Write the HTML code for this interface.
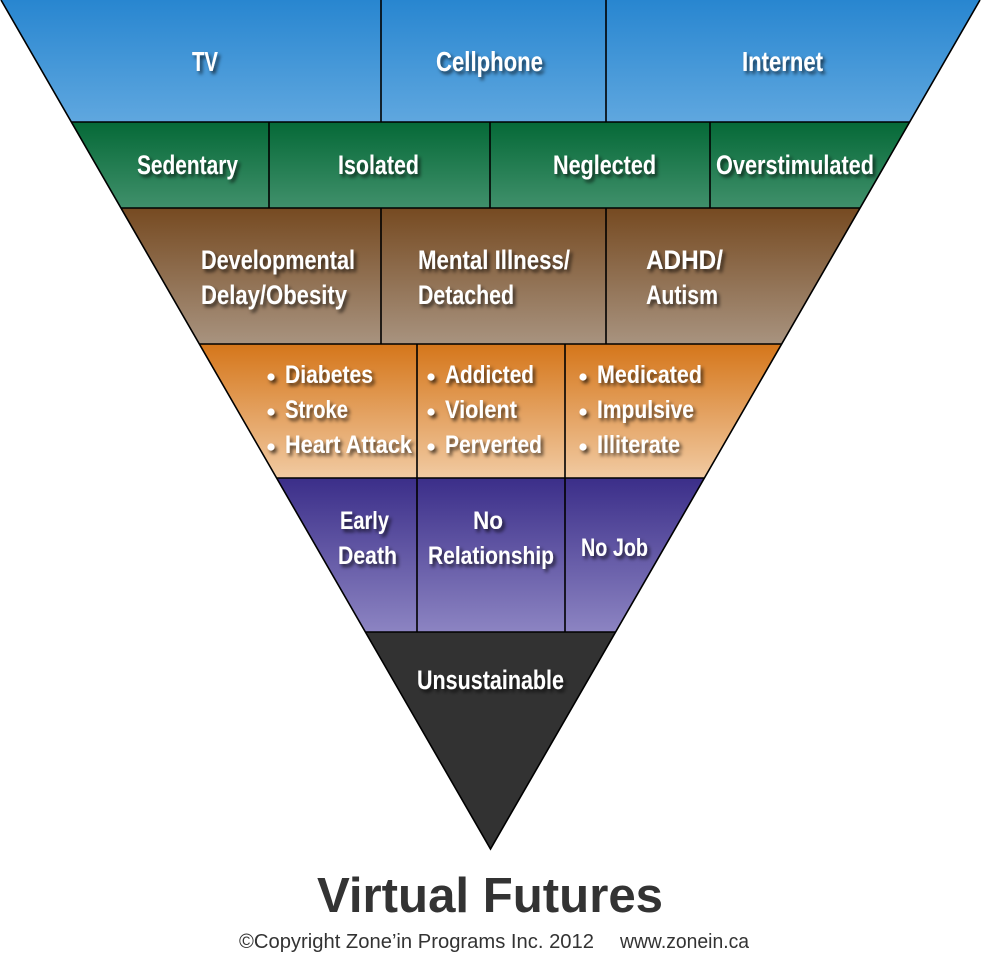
<!DOCTYPE html>
<html>
<head>
<meta charset="utf-8">
<style>
html,body{margin:0;padding:0;background:#fff;}
svg{display:block;}
.t{font-family:"Liberation Sans",sans-serif;font-weight:bold;fill:#fff;}
</style>
</head>
<body>
<svg width="981" height="963" viewBox="0 0 981 963" xmlns="http://www.w3.org/2000/svg">
<defs>
<linearGradient id="gBlue" x1="0" y1="0" x2="0" y2="1"><stop offset="0" stop-color="#2886d0"/><stop offset="1" stop-color="#5fa7df"/></linearGradient>
<linearGradient id="gGreen" x1="0" y1="0" x2="0" y2="1"><stop offset="0" stop-color="#056937"/><stop offset="1" stop-color="#40906b"/></linearGradient>
<linearGradient id="gBrown" x1="0" y1="0" x2="0" y2="1"><stop offset="0" stop-color="#764a21"/><stop offset="1" stop-color="#a8937f"/></linearGradient>
<linearGradient id="gOrange" x1="0" y1="0" x2="0" y2="1"><stop offset="0" stop-color="#d5761a"/><stop offset="1" stop-color="#f1caa2"/></linearGradient>
<linearGradient id="gPurple" x1="0" y1="0" x2="0" y2="1"><stop offset="0" stop-color="#3b2e89"/><stop offset="1" stop-color="#8c84c2"/></linearGradient>
<filter id="sh" x="-20%" y="-40%" width="140%" height="180%">
<feDropShadow dx="2.5" dy="3" stdDeviation="1.8" flood-color="#000" flood-opacity="0.65"/>
</filter>
</defs>

<!-- bands -->
<polygon points="1,0 980,0 909.6,122 71.4,122" fill="url(#gBlue)"/>
<polygon points="71.4,122 909.6,122 860,208 121,208" fill="url(#gGreen)"/>
<polygon points="121,208 860,208 781.5,344 199.5,344" fill="url(#gBrown)"/>
<polygon points="199.5,344 781.5,344 704.2,478 276.8,478" fill="url(#gOrange)"/>
<polygon points="276.8,478 704.2,478 615.3,632 365.7,632" fill="url(#gPurple)"/>
<polygon points="365.7,632 615.3,632 490.5,849" fill="#323232"/>

<!-- outlines -->
<g stroke="#000" stroke-width="1.6" fill="none">
<polyline points="1,0 490.5,849 980,0"/>
<line x1="71.4" y1="122" x2="909.6" y2="122"/>
<line x1="121" y1="208" x2="860" y2="208"/>
<line x1="199.5" y1="344" x2="781.5" y2="344"/>
<line x1="276.8" y1="478" x2="704.2" y2="478"/>
<line x1="365.7" y1="632" x2="615.3" y2="632"/>
<line x1="381" y1="0" x2="381" y2="122"/>
<line x1="606" y1="0" x2="606" y2="122"/>
<line x1="269" y1="122" x2="269" y2="208"/>
<line x1="490" y1="122" x2="490" y2="208"/>
<line x1="710" y1="122" x2="710" y2="208"/>
<line x1="381" y1="208" x2="381" y2="344"/>
<line x1="606" y1="208" x2="606" y2="344"/>
<line x1="417" y1="344" x2="417" y2="632"/>
<line x1="565" y1="344" x2="565" y2="632"/>
</g>

<g class="t" filter="url(#sh)">
<!-- band 1 -->
<text x="192" y="71" font-size="28" textLength="26" lengthAdjust="spacingAndGlyphs">TV</text>
<text x="436" y="71" font-size="28" textLength="107" lengthAdjust="spacingAndGlyphs">Cellphone</text>
<text x="742" y="71" font-size="28" textLength="81" lengthAdjust="spacingAndGlyphs">Internet</text>
<!-- band 2 -->
<text x="137" y="174" font-size="27" textLength="101" lengthAdjust="spacingAndGlyphs">Sedentary</text>
<text x="338" y="174" font-size="27" textLength="81" lengthAdjust="spacingAndGlyphs">Isolated</text>
<text x="553" y="174" font-size="27" textLength="103" lengthAdjust="spacingAndGlyphs">Neglected</text>
<text x="716" y="174" font-size="27" textLength="158" lengthAdjust="spacingAndGlyphs">Overstimulated</text>
<!-- band 3 -->
<text x="201" y="269" font-size="27" textLength="154" lengthAdjust="spacingAndGlyphs">Developmental</text>
<text x="201" y="304" font-size="27" textLength="146" lengthAdjust="spacingAndGlyphs">Delay/Obesity</text>
<text x="418" y="269" font-size="27" textLength="152" lengthAdjust="spacingAndGlyphs">Mental Illness/</text>
<text x="418" y="304" font-size="27" textLength="96" lengthAdjust="spacingAndGlyphs">Detached</text>
<text x="646" y="269" font-size="27" textLength="77" lengthAdjust="spacingAndGlyphs">ADHD/</text>
<text x="646" y="304" font-size="27" textLength="72" lengthAdjust="spacingAndGlyphs">Autism</text>
<!-- band 4 -->
<circle cx="271" cy="377" r="3.6" fill="#fff"/>
<circle cx="271" cy="412" r="3.6" fill="#fff"/>
<circle cx="271" cy="447" r="3.6" fill="#fff"/>
<circle cx="431" cy="377" r="3.6" fill="#fff"/>
<circle cx="431" cy="412" r="3.6" fill="#fff"/>
<circle cx="431" cy="447" r="3.6" fill="#fff"/>
<circle cx="583" cy="377" r="3.6" fill="#fff"/>
<circle cx="583" cy="412" r="3.6" fill="#fff"/>
<circle cx="583" cy="447" r="3.6" fill="#fff"/>
<text x="285" y="383" font-size="25" textLength="88" lengthAdjust="spacingAndGlyphs">Diabetes</text>
<text x="285" y="418" font-size="25" textLength="63" lengthAdjust="spacingAndGlyphs">Stroke</text>
<text x="285" y="453" font-size="25" textLength="127" lengthAdjust="spacingAndGlyphs">Heart Attack</text>
<text x="445" y="383" font-size="25" textLength="89" lengthAdjust="spacingAndGlyphs">Addicted</text>
<text x="445" y="418" font-size="25" textLength="72" lengthAdjust="spacingAndGlyphs">Violent</text>
<text x="445" y="453" font-size="25" textLength="97" lengthAdjust="spacingAndGlyphs">Perverted</text>
<text x="597" y="383" font-size="25" textLength="105" lengthAdjust="spacingAndGlyphs">Medicated</text>
<text x="597" y="418" font-size="25" textLength="97" lengthAdjust="spacingAndGlyphs">Impulsive</text>
<text x="597" y="453" font-size="25" textLength="83" lengthAdjust="spacingAndGlyphs">Illiterate</text>
<!-- band 5 -->
<text x="340" y="529" font-size="25" textLength="49" lengthAdjust="spacingAndGlyphs">Early</text>
<text x="338" y="564" font-size="25" textLength="59" lengthAdjust="spacingAndGlyphs">Death</text>
<text x="473" y="529" font-size="25" textLength="30" lengthAdjust="spacingAndGlyphs">No</text>
<text x="428" y="564" font-size="25" textLength="126" lengthAdjust="spacingAndGlyphs">Relationship</text>
<text x="581" y="556" font-size="25" textLength="67" lengthAdjust="spacingAndGlyphs">No Job</text>
<!-- band 6 -->
<text x="417" y="689" font-size="27" textLength="147" lengthAdjust="spacingAndGlyphs">Unsustainable</text>
</g>

<text x="317" y="912" font-family="Liberation Sans, sans-serif" font-weight="bold" font-size="49" fill="#333" textLength="346" lengthAdjust="spacingAndGlyphs">Virtual Futures</text>
<text x="239" y="948" font-family="Liberation Sans, sans-serif" font-size="20" fill="#333" textLength="355" lengthAdjust="spacingAndGlyphs">©Copyright Zone’in Programs Inc. 2012</text>
<text x="620" y="948" font-family="Liberation Sans, sans-serif" font-size="20" fill="#333" textLength="129" lengthAdjust="spacingAndGlyphs">www.zonein.ca</text>
</svg>
</body>
</html>
